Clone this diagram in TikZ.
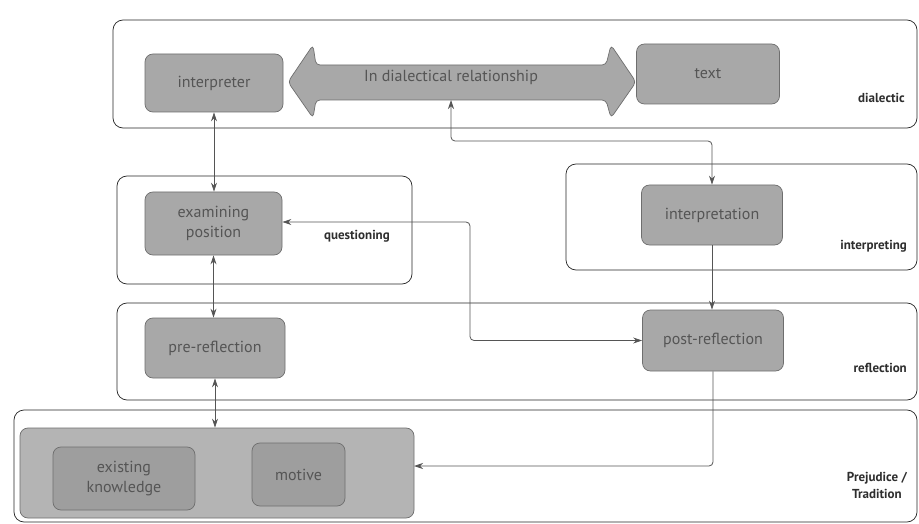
\documentclass[tikz,border=0pt]{standalone}
\usepackage{fontspec}
\setmainfont{PT Sans}
\usetikzlibrary{arrows.meta}
\definecolor{boxfill}{HTML}{A8A8A8}
\definecolor{bigfill}{HTML}{B4B4B4}
\definecolor{boxline}{HTML}{6E6E6E}
\definecolor{boxtext}{HTML}{555555}
\definecolor{labeltext}{HTML}{2E2E2E}
\definecolor{linecol}{HTML}{555555}
\tikzset{
  frame/.style={draw=black!85, line width=0.7pt, rounded corners=10pt},
  graybox/.style={draw=boxline, fill=boxfill, line width=0.7pt, rounded corners=8pt, text=boxtext,
     font=\fontsize{16}{20}\selectfont, align=center, inner sep=0pt},
  innerbox/.style={graybox, fill=boxfill!94!black},
  framelabel/.style={font=\bfseries\fontsize{13}{17}\selectfont, text=labeltext, align=center, anchor=east, inner sep=0pt},
  conn/.style={draw=linecol, line width=0.8pt, rounded corners=4pt, -{Stealth[length=9pt,width=6pt]}},
  biconn/.style={conn, {Stealth[length=9pt,width=6pt]}-{Stealth[length=9pt,width=6pt]}}
}
\begin{document}
\begin{tikzpicture}[x=1pt,y=-1pt]
\useasboundingbox (0,0) rectangle (919,524);
\fill[white] (0,0) rectangle (919,524);
% frames
\draw[frame] (113,20) rectangle (917,128);
\draw[frame] (117,176) rectangle (412,284);
\draw[frame] (566,164) rectangle (917,270);
\draw[frame] (117,303) rectangle (917,400);
\draw[frame] (14,410) rectangle (917,522);
% frame labels
\node[framelabel] (ldia) at (905,98) {dialectic};
\node[framelabel] (lque) at (390,236) {questioning};
\node[framelabel] (lint) at (907,246) {interpreting};
\node[framelabel] (lref) at (907,368) {reflection};
\node[framelabel] (lpre) at (907,485) {Prejudice /\\Tradition};
% boxes
\node[graybox, minimum width=138pt, minimum height=58pt] (interpreter) at (214,83) {interpreter};
\node[graybox, minimum width=143pt, minimum height=60pt] (text) at (708,74) {text};
% double arrow
\draw[draw=boxline, fill=boxfill, line width=0.7pt, rounded corners=4pt]
  (288,82) -- (313,45) -- (316,65) -- (606,65) -- (611,45) -- (636,82)
  -- (611,118) -- (606,100) -- (316,100) -- (313,118) -- cycle;
\node[text=boxtext, font=\fontsize{16}{20}\selectfont, inner sep=0pt] (dia) at (451,77) {In dialectical relationship};
\node[graybox, minimum width=137pt, minimum height=63pt] (exam) at (213.5,223.5) {examining\\position};
\node[graybox, minimum width=141pt, minimum height=60pt] (interp) at (712,215) {interpretation};
\node[graybox, minimum width=141pt, minimum height=61pt] (post) at (713,340.5) {post-reflection};
\node[graybox, minimum width=140pt, minimum height=60pt] (pre) at (215,348) {pre-reflection};
\node[draw=boxline, fill=bigfill, line width=0.7pt, rounded corners=8pt, minimum width=394pt, minimum height=90pt, inner sep=0pt] (big) at (217,473) {};
\node[innerbox, minimum width=142pt, minimum height=63pt] (know) at (124,478.5) {existing\\knowledge};
\node[innerbox, minimum width=93pt, minimum height=63pt] (motive) at (298.5,474.5) {motive};
% connectors
\draw[biconn] (interpreter.south) -- (interpreter.south |- exam.north);
\draw[biconn] (exam.south) -- (exam.south |- pre.north);
\draw[biconn] (pre.south) -- (pre.south |- big.north);
\coordinate (diabot) at (451,100);
\coordinate (diaturn) at (451,141);
\draw[biconn] (diabot) -- (diaturn) -| (interp.north);
\coordinate (examturn) at (470,222);
\draw[biconn] (exam.east |- examturn) -- (examturn) |- (post.west);
\draw[conn] (interp.south) -- (interp.south |- post.north);
\coordinate (bigin) at (414,466);
\draw[conn] (post.south) |- (bigin);
\end{tikzpicture}
\end{document}
